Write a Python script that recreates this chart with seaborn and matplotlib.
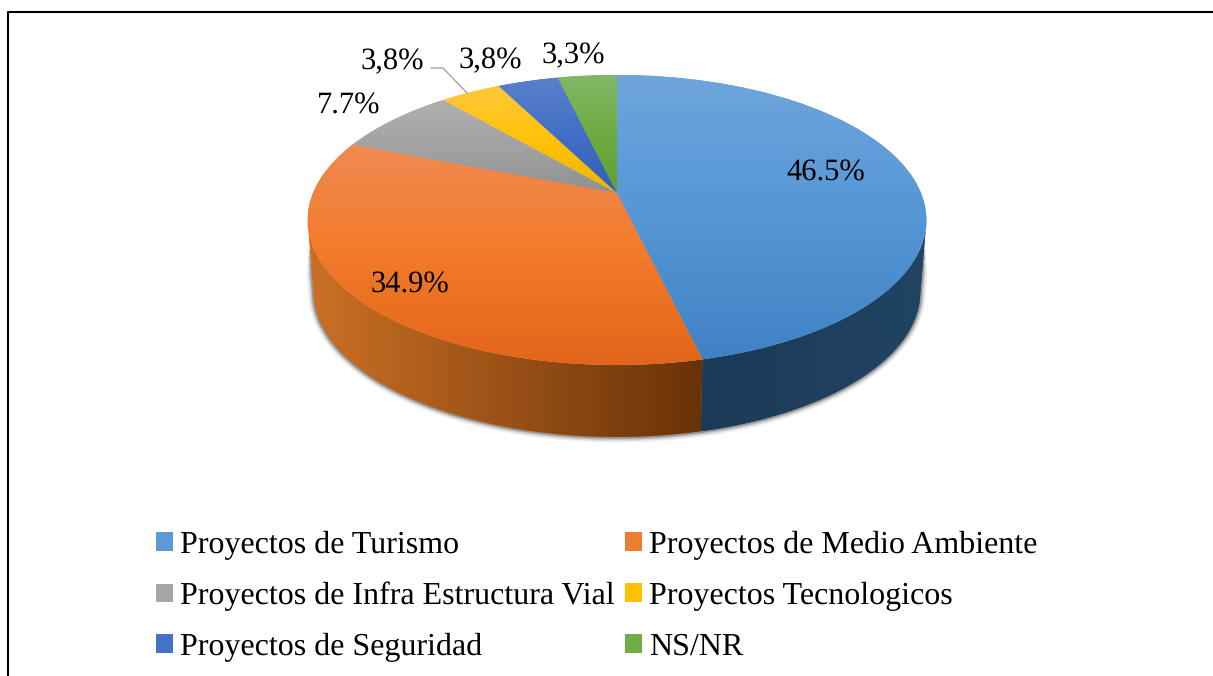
import numpy as np
import matplotlib
matplotlib.use("Agg")
import matplotlib.pyplot as plt
from matplotlib.colors import to_rgb
from matplotlib.patches import PathPatch
from matplotlib.path import Path
from matplotlib.transforms import Transform
import seaborn as sns

# === DATA ===
categories = [
    "Proyectos de Turismo",
    "Proyectos de Medio Ambiente",
    "Proyectos de Infra Estructura Vial",
    "Proyectos Tecnologicos",
    "Proyectos de Seguridad",
    "NS/NR",
]
# shares as drawn in the picture, the printed labels differ a little
values = [46.3, 34.7, 7.7, 3.8, 3.8, 3.7]
value_labels = ["46.5%", "34.9%", "7.7%", "3,8%", "3,8%", "3,3%"]

# === STYLE ===
base_hex = ["#5B9BD5", "#ED7D31", "#A5A5A5", "#FFC000", "#4472C4", "#70AD47"]
top_stops = [("#6FA5DC", "#5596D6", "#4182C4"),
             ("#F08A50", "#F37A2A", "#E2661A"),
             ("#B0B0B0", "#A3A3A3", "#909090"),
             ("#FFC83C", "#FFC208", "#EDB400"),
             ("#5B80C9", "#426FC5", "#2F5FB5"),
             ("#82B868", "#6DAC42", "#60A030")]
wall_hex = [("#1B3A57", "#214463"), ("#CC7025", "#683208"),
            ("#555555", "#555555"), ("#806000", "#806000"),
            ("#223962", "#223962"), ("#385723", "#385723")]
label_xy = [(826, 173), (410, 285), (349, 106), (392, 62), (490, 61), (573, 56)]

# geometry of the tilted pie, in pixels
APEX_X, APEX_Y = 617, 193
PERSP_K, PERSP_A, PERSP_B = 0.186, 304, 140
CENTER_Y = 220
DEPTH = 72
BOTTOM_SCALE = 0.98

sns.set_theme(style="white")
plt.rcParams["font.family"] = ["Liberation Serif", "DejaVu Serif"]
plt.rcParams["text.hinting"] = "none"
palette = sns.color_palette(base_hex)


class PerspectiveTransform(Transform):
    """Unit circle of the pie -> ellipse on screen, apex off centre"""
    input_dims = 2
    output_dims = 2

    def transform_non_affine(self, values):
        values = np.asarray(values, dtype=float)
        u, v = values[:, 0], values[:, 1]
        w = 1 + PERSP_K * v
        return np.column_stack([APEX_X + PERSP_A * u / w, APEX_Y - PERSP_B * v / w])


def lower_edge(arc):
    """Same arc on the bottom face of the pie"""
    out = arc.copy()
    out[:, 0] = APEX_X + (out[:, 0] - APEX_X) * BOTTOM_SCALE
    out[:, 1] = out[:, 1] + DEPTH
    return out


fig = plt.figure(figsize=(12.13, 6.76), dpi=100)
ax = fig.add_axes([0, 0, 1, 1])

wedges, _ = ax.pie(values, colors=palette, startangle=90, counterclock=False,
                   radius=1, frame=False)
proj = PerspectiveTransform()

# shadow round the lower edge
theta_all = np.radians(np.linspace(-180, 0, 400))
pts = proj.transform(np.column_stack([np.cos(theta_all), np.sin(theta_all)]))
pts = pts[pts[:, 1] >= CENTER_Y]
low = lower_edge(pts)
for start, lw, alpha in [(0.7, 8, 0.07), (0.6, 6, 0.11), (0.5, 4, 0.17), (0.4, 2.5, 0.28)]:
    outline = np.vstack([[pts[0] + start * (low[0] - pts[0])], low,
                         [pts[-1] + start * (low[-1] - pts[-1])]])
    ax.plot(outline[:, 0], outline[:, 1], color="#303030", lw=lw, alpha=alpha,
            zorder=1, solid_capstyle="butt")

# side wall, gradient runs left to right
for i, wedge in enumerate(wedges):
    th = np.radians(np.linspace(wedge.theta1, wedge.theta2, 200))
    arc = proj.transform(np.column_stack([np.cos(th), np.sin(th)]))
    arc = arc[arc[:, 1] >= CENTER_Y]
    if len(arc) < 2:
        continue
    poly = np.vstack([arc, lower_edge(arc)[::-1]])
    wall = PathPatch(Path(poly), facecolor=wall_hex[i][0], edgecolor="none",
                     transform=ax.transData, zorder=2)
    ax.add_patch(wall)
    left = np.array(to_rgb(wall_hex[i][0]))
    right = np.array(to_rgb(wall_hex[i][1]))
    t = np.linspace(0, 1, 256)[None, :, None]
    grad = left[None, None, :] * (1 - t) + right[None, None, :] * t
    im = ax.imshow(grad, extent=(poly[:, 0].min(), poly[:, 0].max(),
                                 poly[:, 1].max(), poly[:, 1].min()),
                   aspect="auto", zorder=3)
    im.set_clip_path(wall)

# top face, light to dark per slice
for i, wedge in enumerate(wedges):
    wedge.set_transform(proj + ax.transData)
    wedge.set_zorder(4)
    wedge.set_edgecolor("none")
    box = wedge.get_path().transformed(proj).get_extents()
    stops = np.array([to_rgb(c) for c in top_stops[i]])
    t = np.linspace(0, 1, 256)
    grad = np.column_stack([np.interp(t, [0, 0.5, 1], stops[:, k]) for k in range(3)])
    im = ax.imshow(grad[:, None, :], extent=(box.x0, box.x1, box.y1, box.y0),
                   aspect="auto", zorder=5)
    im.set_clip_path(wedge)

# value labels
for text, (x, y) in zip(value_labels, label_xy):
    ax.text(x, y, text, fontsize=22, color="black", ha="center", va="center", zorder=7)

# leader line of the yellow slice
ax.plot([431, 443, 467], [68, 68, 93], color="#A6A6A6", lw=1, zorder=6)

# frame of the picture: left and top only
ax.plot([8, 8, 1213], [676, 12, 12], color="black", lw=1.5, zorder=8)

ax.set_aspect("auto")
ax.set_xlim(0, 1213)
ax.set_ylim(676, 0)
ax.set_axis_off()

# legend fills by column, reference reads by row
order = [0, 2, 4, 1, 3, 5]
leg = ax.legend([wedges[i] for i in order], [categories[i] for i in order],
                ncol=2, loc="upper left", bbox_to_anchor=(156 / 1213, 1 - 531 / 676),
                bbox_transform=fig.transFigure, frameon=False, fontsize=23.0,
                labelcolor="black", handlelength=0.53, handleheight=0.53,
                handletextpad=0.235, columnspacing=0.31, labelspacing=0.68,
                borderpad=0, borderaxespad=0)

fig.savefig("out.png", dpi=100)
